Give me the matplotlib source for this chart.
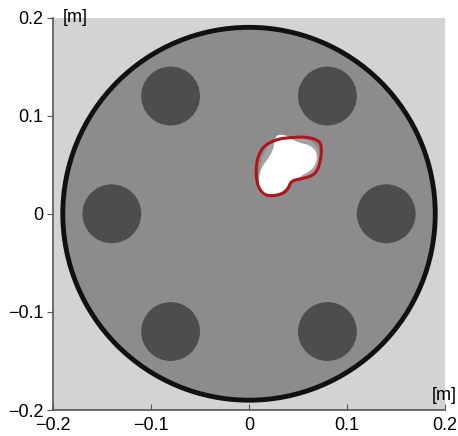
import numpy as np
import matplotlib
matplotlib.use('Agg')
import matplotlib.pyplot as plt
from matplotlib.patches import Circle, Polygon

plt.rcParams['font.family'] = ['Liberation Sans', 'DejaVu Sans']

# section geometry [m]
outer_radius = 0.19
hole_x = [-0.08, 0.08, -0.14, 0.14, -0.08, 0.08]
hole_y = [0.12, 0.12, 0.0, 0.0, -0.12, -0.12]
hole_radius = 0.03

# red contour
contour_x = [0.0215, 0.0316, 0.0418, 0.0553, 0.0657, 0.0724, 0.0741, 0.0731, 0.0708, 0.0657,
             0.0553, 0.0452, 0.0418, 0.0401, 0.0350, 0.0248, 0.0164, 0.0113, 0.0078, 0.0071,
             0.0090, 0.0140]
contour_y = [0.0730, 0.0765, 0.0776, 0.0784, 0.0767, 0.0733, 0.0665, 0.0563, 0.0461, 0.0393,
             0.0359, 0.0342, 0.0308, 0.0257, 0.0206, 0.0182, 0.0189, 0.0240, 0.0325, 0.0461,
             0.0580, 0.0675]

# lighter gray halo around the void
halo_x = [0.0248, 0.0350, 0.0452, 0.0555, 0.0639, 0.0708, 0.0724, 0.0708, 0.0673, 0.0589,
          0.0520, 0.0452, 0.0385, 0.0334, 0.0248, 0.0146, 0.0106, 0.0095, 0.0113, 0.0146,
          0.0197]
halo_y = [0.0767, 0.0801, 0.0774, 0.0767, 0.0740, 0.0665, 0.0563, 0.0478, 0.0410, 0.0366,
          0.0359, 0.0325, 0.0257, 0.0206, 0.0182, 0.0189, 0.0257, 0.0359, 0.0495, 0.0597,
          0.0699]

# white void
void_x = [0.0283, 0.0385, 0.0440, 0.0525, 0.0610, 0.0680, 0.0698, 0.0665, 0.0610, 0.0540,
          0.0487, 0.0436, 0.0385, 0.0334, 0.0248, 0.0150, 0.0100, 0.0100, 0.0115, 0.0150,
          0.0195, 0.0245, 0.0262]
void_y = [0.0808, 0.0800, 0.0755, 0.0720, 0.0703, 0.0650, 0.0563, 0.0478, 0.0427, 0.0390,
          0.0357, 0.0322, 0.0272, 0.0220, 0.0182, 0.0176, 0.0232, 0.0344, 0.0436, 0.0504,
          0.0563, 0.0648, 0.0740]

xticks = [-0.2, -0.1, 0, 0.1, 0.2]
yticks = [-0.2, -0.1, 0, 0.1, 0.2]
ticklabels = ['\u22120.2', '\u22120.1', '0', '0.1', '0.2']


def smooth(xs, ys, n=3):
    # chaikin corner cutting for a closed outline
    pts = np.column_stack([xs, ys])
    for _ in range(n):
        nxt = np.roll(pts, -1, axis=0)
        q = 0.75 * pts + 0.25 * nxt
        r = 0.25 * pts + 0.75 * nxt
        pts = np.empty((2 * len(q), 2))
        pts[0::2] = q
        pts[1::2] = r
    return pts


fig = plt.figure(figsize=(4.58, 4.36), dpi=100)
ax = fig.add_axes([0.1157, 0.0596, 0.856, 0.9002])
ax.set_facecolor('#d3d3d3')

ax.add_patch(Circle((0, 0), outer_radius, facecolor='#8c8c8c', edgecolor='#111111',
                    lw=3.5, zorder=2))
for hx, hy in zip(hole_x, hole_y):
    ax.add_patch(Circle((hx, hy), hole_radius, facecolor='#4d4d4d', edgecolor='none', zorder=3))

ax.add_patch(Polygon(smooth(halo_x, halo_y), closed=True, facecolor='#a3a3a3',
                     edgecolor='none', zorder=4))
ax.add_patch(Polygon(smooth(void_x, void_y), closed=True, facecolor='white',
                     edgecolor='none', zorder=5))
ax.add_patch(Polygon(smooth(contour_x, contour_y), closed=True, facecolor='none',
                     edgecolor='#b2141c', lw=2.2, zorder=6))

ax.set_xlim(-0.2, 0.2)
ax.set_ylim(-0.2, 0.2)
ax.set_xticks(xticks)
ax.set_yticks(yticks)
ax.set_xticklabels(ticklabels)
ax.set_yticklabels(ticklabels)
ax.tick_params(axis='x', direction='in', length=4, color='#555555', labelsize=13, pad=5)
ax.tick_params(axis='y', direction='out', length=4, color='#555555', labelsize=13, pad=3)

for side in ['top', 'right']:
    ax.spines[side].set_visible(False)
for side in ['left', 'bottom']:
    ax.spines[side].set_color('#555555')
    ax.spines[side].set_linewidth(1.2)

ax.text(0.025, 1.0, '[m]', transform=ax.transAxes, fontsize=13, ha='left', va='center')
ax.text(0.997, 0.038, '[m]', transform=ax.transAxes, fontsize=13, ha='center', va='center')

fig.savefig('out.png', dpi=100)
